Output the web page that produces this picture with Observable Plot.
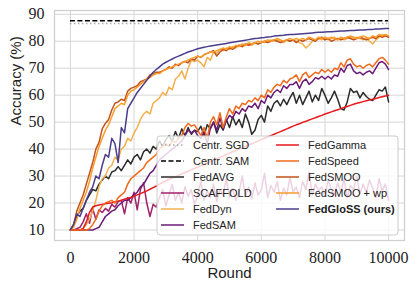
<!DOCTYPE html>
<html><head><meta charset="utf-8">
<script src="https://cdn.jsdelivr.net/npm/d3@7"></script>
<script src="https://cdn.jsdelivr.net/npm/@observablehq/plot@0.6"></script>
<style>body{margin:0;background:#fff}</style>
</head><body><div id="chart"></div>
<script>
// ---------- data ----------
const rounds = d3.range(0, 10001, 100);
const xTicks = [0, 2000, 4000, 6000, 8000, 10000];
const yTicks = [10, 20, 30, 40, 50, 60, 70, 80, 90];

const centrSGD = 86.6;
const centrSAM = 87.6;

const fedAVG = [
 10, 12, 15, 17, 18, 21, 23, 25, 24.5, 27,
 28.5, 30, 29, 31.5, 32, 33.5, 32, 34, 36, 34.5,
 37, 38, 36, 39, 40, 38.5, 41, 40, 43, 41,
 43.5, 45, 43, 46.5, 44, 47.5, 45, 48, 45.5, 47,
 46.5, 48.5, 45, 49, 47.5, 50, 46, 49, 47, 51,
 48, 52, 49, 51, 48, 53, 50, 45.5, 47, 51,
 52.5, 50, 56, 54, 57, 58, 56, 58.5, 56.5, 59,
 61, 57, 60, 56.5, 59, 61.5, 57.5, 60, 58, 62.5,
 60, 57, 59, 61.5, 58.5, 55, 54.5, 57.5, 62.5, 61,
 61.5, 59, 61, 59.5, 58.5, 58, 60, 62, 61.5, 63,
 57.5];

const scaffold = [
 10, 10, 10.5, 11, 13, 16, 12.5, 18, 14, 17.5,
 16.5, 18, 17, 19.5, 18.5, 20.5, 21, 16, 22, 20,
 24, 17.5, 25, 27.5, 20, 15, 19.5, 18.5, 22, 25,
 19, 23, 27, 21, 24, 20, 26, 22.5, 25, 19.5,
 23, 28, 21, 24.5, 22, 27, 20.5, 25, 23, 29,
 22, 25.5, 21, 24, 30, 22.5, 26, 21.5, 27.5, 23,
 25, 31, 22, 26.5, 24, 28, 21, 25.5, 23, 29.5,
 24, 26, 22, 28, 25, 31.5, 23, 27, 24.5, 26,
 22.5, 28.5, 25, 23, 27.5, 24, 29, 22, 26.5, 25,
 30, 23.5, 27, 24, 28.5, 25.5, 22, 29, 24.5, 27,
 21];

const fedDyn = [
 10, 10, 10, 10, 10.5, 12, 14, 17, 21, 26,
 29, 30, 33, 34, 37, 36, 40, 41, 44, 43,
 46, 48, 51, 53, 54, 53, 57, 58, 59, 61,
 60, 63, 62, 66, 67, 69, 66, 70, 73, 72.5,
 73, 72, 70.5, 74, 73, 76, 75.5, 77, 76.5, 77.5,
 77, 78, 77.5, 78.5, 78, 78.5, 79, 78.5, 79.5, 79,
 80, 79.5, 80, 80.5, 80, 80.5, 80, 79.5, 80.5, 80,
 80.5, 80, 79.5, 79, 77.5, 78.5, 80, 80.5, 81, 80.5,
 81, 80.5, 81, 81.5, 80.5, 81, 80.5, 81, 81.5, 81,
 81.5, 81, 80.5, 81, 80, 79, 80.5, 81.5, 82.5, 82,
 81.8];

const fedSAM = [
 10, 10, 10, 10, 10, 10, 10, 10, 10.5, 11,
 13, 15, 16, 17, 17.5, 19, 20, 21, 21, 22,
 23, 24, 26, 27, 29, 31, 32, 34, 36, 37,
 38, 39, 40, 41, 42, 43, 45, 47, 46, 47,
 45, 44, 46.5, 42, 48, 50, 47, 51.5, 47.5, 50.5,
 52.5, 51.5, 54, 53, 55, 54, 56, 55.5, 57, 55,
 58, 57, 60, 59, 61, 62, 61, 63.5, 62.5, 64,
 64, 65, 62.5, 65, 66, 64, 65, 66.5, 66, 67,
 66, 67, 66, 67.5, 67, 70, 68.5, 71, 71.5, 69,
 68, 68.5, 67.5, 68.5, 69, 68, 70, 72, 72.5, 71.5,
 69.5];

const fedGamma = [
 10, 10, 10, 10, 10.5, 13, 16.5, 18.5, 19, 19.3,
 19.5, 19.7, 19.9, 20.1, 20.4, 20.7, 21, 21.4, 21.8, 22.1,
 22.5, 23, 23.5, 24, 24.5, 25.1, 25.7, 26.3, 27, 27.6,
 28.3, 28.8, 29.3, 29.8, 30.3, 30.8, 31.3, 31.8, 32.3, 32.8,
 33.3, 33.8, 34.3, 34.8, 35.4, 35.9, 36.4, 36.9, 37.4, 38,
 38.5, 39, 39.5, 40, 40.5, 41, 41.5, 42, 42.5, 43,
 43.5, 44, 44.5, 45, 45.5, 46, 46.5, 47, 47.5, 48,
 48.5, 49, 49.4, 49.9, 50.3, 50.8, 51.2, 51.6, 52.1, 52.5,
 53, 53.4, 53.8, 54.2, 54.6, 55, 55.4, 55.8, 56.2, 56.6,
 57, 57.3, 57.6, 57.9, 58.2, 58.5, 58.8, 59.1, 59.4, 59.7,
 60];

const fedSpeed = [
 10, 10, 10, 10, 10, 10, 10.5, 12, 14, 17,
 19, 20, 20.5, 21, 20, 22, 23, 24, 27, 29,
 30, 31, 32, 33, 35, 36, 37, 38, 40, 41,
 42, 41, 43, 42.5, 44, 45, 48, 49.5, 48.5, 49,
 47, 45, 48, 44, 50, 52, 49, 53.5, 48, 52,
 55, 53, 56, 55, 57, 56.5, 58, 57.5, 59, 58,
 60, 59, 62, 61, 63, 64, 63.5, 65.5, 64.5, 66,
 66.5, 67.5, 65, 67.5, 68.5, 66.5, 67.5, 68.5, 68, 69.5,
 68.5, 69.5, 68.5, 70, 69.5, 72, 70.5, 73, 73.5, 71.5,
 70.5, 71, 70, 71, 71.5, 70.5, 72, 73.5, 74, 73,
 71.5];

const fedSMOO = [
 10, 12, 17, 20, 23, 27, 31, 35, 40, 42.5,
 47.5, 49.5, 51, 54.5, 57, 57.5, 58.5, 58, 61.5, 62.5,
 63, 63.5, 65, 65.5, 66, 67.5, 68, 68.5, 68.5, 69,
 69.5, 70.5, 70, 71.5, 71, 72, 72.5, 72, 73.5, 73,
 74.5, 74, 75, 75.5, 76, 76.5, 74.5, 76, 77, 76.5,
 77.5, 77, 78, 78.5, 78, 79, 78.5, 79, 79.5, 79,
 79.5, 80, 79.5, 80, 80.5, 80, 79.5, 80, 80.5, 80,
 80.5, 79.5, 80.5, 80, 80.5, 81, 80.5, 80, 81, 81.5,
 80.5, 81, 80, 80.5, 81, 80.5, 81, 81.5, 81, 80.5,
 81, 81.5, 81, 80.5, 81, 81.5, 81, 82, 81.5, 82,
 81.5];

const fedSMOOwp = [
 10, 11, 14, 18, 21, 24, 28, 33, 37, 41,
 44, 47, 49, 52, 55, 56, 57, 56.5, 60, 61.5,
 62, 63, 64, 65, 66, 66.5, 67.5, 68, 68, 69,
 69.5, 70, 70.5, 71, 71.5, 72, 72.5, 73, 73.5, 74,
 74.5, 74, 75, 75.5, 76, 76, 76.5, 77, 77.5, 77,
 78, 77.5, 78.5, 78, 79, 78.5, 79.5, 79, 79.5, 80,
 79.5, 80, 80.5, 80, 80.5, 81, 80.5, 80, 80.5, 81,
 80.5, 81, 80.5, 81, 80.5, 81.5, 81, 80.5, 81.5, 81,
 81.5, 81, 81.5, 81, 80.5, 81.5, 81, 81.5, 82, 81.5,
 81, 81.5, 82, 81.5, 81, 82, 81.5, 82.5, 82, 82.5,
 82];

const fedGloSS = [
 10, 12, 16, 15, 18, 21, 24, 26, 30, 29,
 34, 38, 37, 44, 42, 35, 48, 46, 55, 57,
 59, 61, 62.5, 64, 65.5, 67, 68.5, 69.5, 70.5, 71.5,
 72.2, 72.8, 73.4, 74, 74.5, 75, 75.5, 76, 76.4, 76.8,
 77.2, 77.5, 77.8, 78, 78.2, 78.4, 78.6, 78.8, 79, 79.2,
 79.4, 79.6, 79.8, 80, 80.2, 80.4, 80.6, 80.8, 81, 81.1,
 81.3, 81.4, 81.6, 81.7, 81.9, 82, 82.1, 82.2, 82.4, 82.5,
 82.5, 82.6, 82.7, 82.8, 82.9, 83, 83.1, 83.2, 83.3, 83.3,
 83.4, 83.5, 83.5, 83.6, 83.7, 83.8, 83.8, 83.9, 84, 84,
 84.1, 84.2, 84.2, 84.3, 84.4, 84.4, 84.5, 84.5, 84.6, 84.7,
 84.7];

const seriesNames = ["FedAVG", "SCAFFOLD", "FedDyn", "FedSAM", "FedGamma",
  "FedSpeed", "FedSMOO", "FedSMOO + wp", "FedGloSS (ours)"];
const seriesValues = [fedAVG, scaffold, fedDyn, fedSAM, fedGamma,
  fedSpeed, fedSMOO, fedSMOOwp, fedGloSS];
const seriesColors = ["#2b2b2b", "#a0226a", "#f4b04f", "#6a1b78", "#e6191e",
  "#f06a1c", "#c2531d", "#fb9b2a", "#4b3d8c"];

// ---------- plot ----------
const serif = "'Liberation Serif', 'DejaVu Serif', serif";
const sans = "'Liberation Sans', 'DejaVu Sans', sans-serif";

const lineMarks = seriesValues.map((vals, k) =>
  Plot.line(rounds.map((r, i) => ({r, v: vals[i]})),
    {x: "r", y: "v", stroke: seriesColors[k], strokeWidth: 1.5})
);

const plot = Plot.plot({
  width: 415,
  height: 292,
  marginLeft: 54,
  marginRight: 11,
  marginTop: 10,
  marginBottom: 52,
  style: {background: "white", fontFamily: sans},
  x: {domain: [-500, 10500]},
  y: {domain: [6.1, 91.4]},
  marks: [
    Plot.gridX(xTicks, {stroke: "#d6d6d6", strokeOpacity: 1, strokeWidth: 1}),
    Plot.gridY(yTicks, {stroke: "#d6d6d6", strokeOpacity: 1, strokeWidth: 1}),
    Plot.frame({stroke: "#cfcfcf", strokeWidth: 1.25}),
    Plot.axisX(xTicks, {tickSize: 0, tickPadding: 11, tickFormat: d3.format("d"), fontSize: 16, fontFamily: serif, fill: "#222", label: null}),
    Plot.axisY(yTicks, {tickSize: 0, tickPadding: 10, tickFormat: d3.format("d"), fontSize: 16, fontFamily: serif, fill: "#222", label: null}),
    Plot.text(["Accuracy (%)"], {frameAnchor: "left", dx: -38, rotate: -90, fontSize: 15, fontFamily: sans, fill: "#222"}),
    Plot.text(["Round"], {frameAnchor: "bottom", dy: 37, fontSize: 15, fontFamily: sans, fill: "#222"}),
    Plot.ruleY([centrSGD], {x1: 0, x2: 10000, stroke: "#a9a9a9", strokeWidth: 1.5, strokeDasharray: "1.5,2.5"}),
    Plot.ruleY([centrSAM], {x1: 0, x2: 10000, stroke: "#000", strokeWidth: 1.5, strokeDasharray: "5,2.5"}),
    ...lineMarks
  ]
});

document.getElementById("chart").appendChild(plot);

// ---------- legend ----------
const legendItems = [
  {name: "Centr. SGD", color: "#a9a9a9", dash: "1.5,2.5"},
  {name: "Centr. SAM", color: "#000", dash: "5,2.5"},
  ...seriesNames.map((n, k) => ({name: n, color: seriesColors[k], dash: null}))
];
const svg = d3.select(plot);
const lg = svg.append("g").attr("text-anchor", "start");
lg.append("rect").attr("x", 157).attr("y", 136).attr("width", 241).attr("height", 99)
  .attr("rx", 3).attr("fill", "white").attr("fill-opacity", 0.8).attr("stroke", "#cccccc");
legendItems.forEach((it, i) => {
  const col = i < 6 ? 0 : 1;
  const row = i < 6 ? i : i - 6;
  const hx = col === 0 ? 161 : 276;
  const y = 145 + row * 16;
  const ln = lg.append("line").attr("x1", hx).attr("x2", hx + 23).attr("y1", y).attr("y2", y)
    .attr("stroke", it.color).attr("stroke-width", 1.5);
  if (it.dash) ln.attr("stroke-dasharray", it.dash);
  lg.append("text").attr("x", hx + 32).attr("y", y).attr("dy", "0.35em")
    .attr("text-anchor", "start")
    .attr("font-size", 11).attr("font-family", sans).attr("fill", "#222")
    .attr("font-weight", it.name.startsWith("FedGloSS") ? "bold" : "normal")
    .text(it.name);
});
</script>
</body></html>
